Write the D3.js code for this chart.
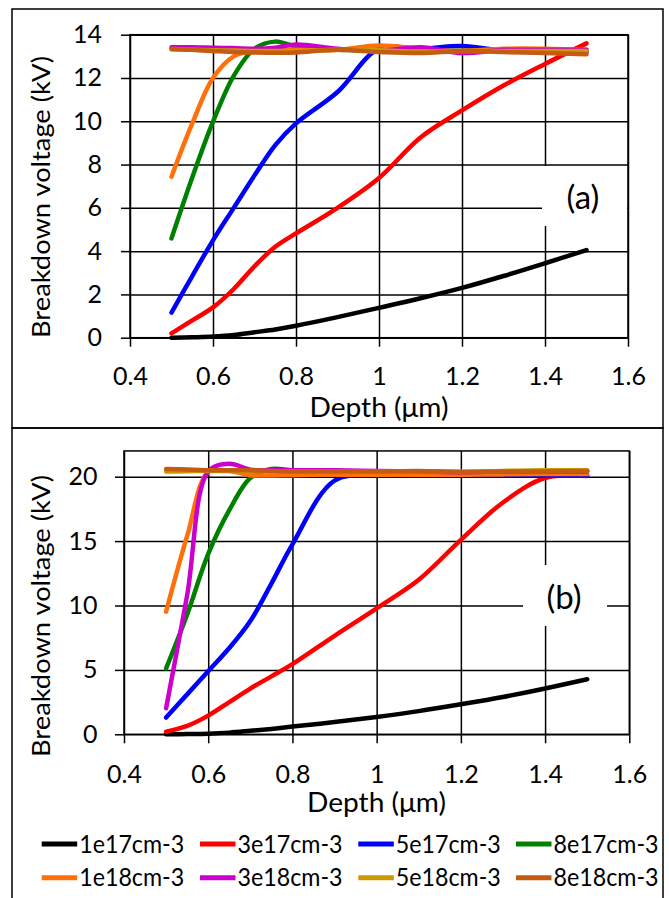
<!DOCTYPE html>
<html>
<head>
<meta charset="utf-8">
<script src="https://cdn.jsdelivr.net/npm/d3@7"></script>
<style>
  html, body { margin: 0; padding: 0; background: #fff; }
  svg { display: block; }
  text { font-family: Lato, "Open Sans", sans-serif; fill: #000; }
</style>
</head>
<body>
<svg id="chart" width="669" height="898"></svg>
<script>
// ---------------- DATA ----------------
const depths = [0.5, 0.55, 0.6, 0.65, 0.7, 0.75, 0.8, 0.9, 1.0, 1.1, 1.2, 1.3, 1.4, 1.5];
const seriesNames = ["1e17cm-3", "3e17cm-3", "5e17cm-3", "8e17cm-3",
                     "1e18cm-3", "3e18cm-3", "5e18cm-3", "8e18cm-3"];
const seriesColors = ["#000000", "#ff0000", "#0000ff", "#008000",
                      "#ff700a", "#cc00cc", "#cc9900", "#c55a11"];
const xTicks = [0.4, 0.6, 0.8, 1.0, 1.2, 1.4, 1.6];
const xTickLabels = ["0.4", "0.6", "0.8", "1", "1.2", "1.4", "1.6"];
const yTicksA = [0, 2, 4, 6, 8, 10, 12, 14];
const yTicksB = [0, 5, 10, 15, 20];

// Panel (a) breakdown voltage (kV)
const a1e17 = [0, 0.02, 0.05, 0.12, 0.25, 0.38, 0.55, 0.95, 1.38, 1.82, 2.3, 2.85, 3.44, 4.05];
const a3e17 = [0.2, 0.8, 1.4, 2.25, 3.3, 4.2, 4.82, 6.0, 7.38, 9.25, 10.5, 11.65, 12.65, 13.6];
const a5e17 = [1.16, 2.85, 4.5, 6.0, 7.5, 8.9, 9.9, 11.35, 13.35, 13.35, 13.48, 13.25, 13.2, 13.2];
const a8e17 = [4.59, 7.4, 9.98, 12.1, 13.35, 13.68, 13.45, 13.3, 13.3, 13.25, 13.25, 13.3, 13.3, 13.25];
const a1e18 = [7.44, 9.9, 12.0, 13.0, 13.25, 13.3, 13.3, 13.3, 13.5, 13.35, 13.25, 13.35, 13.35, 13.3];
const a3e18 = [13.42, 13.42, 13.4, 13.38, 13.35, 13.4, 13.55, 13.35, 13.25, 13.42, 13.15, 13.3, 13.3, 13.3];
const a5e18 = [13.32, 13.3, 13.28, 13.27, 13.25, 13.25, 13.25, 13.3, 13.28, 13.22, 13.25, 13.25, 13.25, 13.25];
const a8e18 = [13.35, 13.3, 13.25, 13.2, 13.18, 13.17, 13.18, 13.3, 13.2, 13.15, 13.25, 13.2, 13.15, 13.1];

// Panel (b) breakdown voltage (kV)
const b1e17 = [0, 0.02, 0.05, 0.13, 0.27, 0.42, 0.6, 0.95, 1.35, 1.8, 2.33, 2.9, 3.56, 4.27];
const b3e17 = [0.2, 0.65, 1.45, 2.5, 3.55, 4.5, 5.45, 7.65, 9.78, 12.0, 15.1, 18.0, 19.9, 20.05];
const b5e17 = [1.3, 3.1, 4.9, 6.7, 8.8, 11.7, 14.75, 19.7, 20.1, 20.1, 20.1, 20.1, 20.1, 20.1];
const b8e17 = [5.12, 9.3, 14.0, 17.4, 19.9, 20.6, 20.5, 20.35, 20.3, 20.3, 20.3, 20.35, 20.4, 20.4];
const b1e18 = [9.52, 15.4, 20.35, 20.45, 20.12, 20.1, 20.12, 20.15, 20.15, 20.15, 20.15, 20.18, 20.2, 20.2];
const b3e18 = [2.02, 10.8, 20.4, 21.0, 20.55, 20.5, 20.5, 20.5, 20.45, 20.4, 20.35, 20.4, 20.4, 20.4];
const b5e18 = [20.4, 20.42, 20.45, 20.45, 20.45, 20.42, 20.4, 20.4, 20.4, 20.42, 20.4, 20.45, 20.5, 20.5];
const b8e18 = [20.6, 20.55, 20.5, 20.5, 20.5, 20.45, 20.4, 20.4, 20.4, 20.45, 20.35, 20.4, 20.4, 20.45];

// ---------------- DRAW ----------------
const svg = d3.select("#chart");

// outer frames
svg.append("rect").attr("x", 12).attr("y", 9).attr("width", 651).attr("height", 419)
  .attr("fill", "none").attr("stroke", "#000").attr("stroke-width", 1.5);
svg.append("rect").attr("x", 12).attr("y", 428).attr("width", 651).attr("height", 475)
  .attr("fill", "none").attr("stroke", "#000").attr("stroke-width", 1.5);

const panels = [
  { series: [a1e17, a3e17, a5e17, a8e17, a1e18, a3e18, a5e18, a8e18],
    xr: [130, 628], y0: 337.7, yMax: 14, ypx: 21.643, yTicks: yTicksA,
    yPad: 19, xPad: 20.6, box: [542, 166, 85, 60], label: "(a)", labelPos: [583, 209],
    yTitleY: 197, xTitle: [379, 417] },
  { series: [b1e17, b3e17, b5e17, b8e17, b1e18, b3e18, b5e18, b8e18],
    xr: [124, 629.3], y0: 734.3, yMax: 22, ypx: 12.88, yTicks: yTicksB,
    yPad: 17.6, xPad: 21.7, box: [523, 565, 84, 61], label: "(b)", labelPos: [564, 609],
    yTitleY: 616, xTitle: [376.5, 812] }
];

panels.forEach(p => {
  const x = d3.scaleLinear().domain([0.4, 1.6]).range(p.xr);
  const y = d3.scaleLinear().domain([0, p.yMax]).range([p.y0, p.y0 - p.yMax * p.ypx]);
  const pw = p.xr[1] - p.xr[0];
  const ph = y(0) - y(p.yMax);
  const g = svg.append("g");

  // gridlines
  const gy = g.append("g").attr("transform", `translate(${p.xr[0]},0)`)
    .call(d3.axisLeft(y).tickValues(p.yTicks).tickSize(-pw).tickFormat(""));
  const gx = g.append("g").attr("transform", `translate(0,${y(p.yMax)})`)
    .call(d3.axisBottom(x).tickValues(xTicks).tickSize(ph).tickFormat(""));
  [gy, gx].forEach(a => {
    a.select(".domain").remove();
    a.selectAll("line").attr("stroke", "#000").attr("stroke-width", 1.5);
  });
  // plot frame
  g.append("rect").attr("x", p.xr[0]).attr("y", y(p.yMax)).attr("width", pw).attr("height", ph)
    .attr("fill", "none").attr("stroke", "#000").attr("stroke-width", 1.5);

  // axes with outward ticks and labels
  const ay = g.append("g").attr("transform", `translate(${p.xr[0]},0)`)
    .call(d3.axisLeft(y).tickValues(p.yTicks).tickSize(9).tickPadding(p.yPad).tickFormat(d3.format("d")));
  const ax = g.append("g").attr("transform", `translate(0,${y(0)})`)
    .call(d3.axisBottom(x).tickValues(xTicks).tickSize(9).tickPadding(p.xPad)
      .tickFormat((d, i) => xTickLabels[i]));
  [ay, ax].forEach(a => {
    a.select(".domain").remove();
    a.selectAll("line").attr("stroke", "#000").attr("stroke-width", 1.5);
    a.selectAll("text").attr("font-family", "Lato, sans-serif").attr("font-size", 25).attr("fill", "#000");
  });

  // label box
  g.append("rect").attr("x", p.box[0]).attr("y", p.box[1]).attr("width", p.box[2]).attr("height", p.box[3])
    .attr("fill", "#fff");
  g.append("text").attr("x", p.labelPos[0]).attr("y", p.labelPos[1])
    .attr("text-anchor", "middle").attr("font-size", 33).text(p.label);

  // curves
  const line = d3.line().x((d, i) => x(depths[i])).y(d => y(d)).curve(d3.curveCatmullRom.alpha(0.5));
  p.series.forEach((s, k) => {
    g.append("path").attr("d", line(s)).attr("fill", "none")
      .attr("stroke", seriesColors[k]).attr("stroke-width", 4.5)
      .attr("stroke-linecap", "round").attr("stroke-linejoin", "round");
  });

  // axis titles
  g.append("text").attr("transform", `translate(50,${p.yTitleY}) rotate(-90)`)
    .attr("text-anchor", "middle").attr("font-size", 25)
    .attr("textLength", 282).attr("lengthAdjust", "spacingAndGlyphs")
    .text("Breakdown voltage (kV)");
  g.append("text").attr("x", p.xTitle[0]).attr("y", p.xTitle[1])
    .attr("text-anchor", "middle").attr("font-size", 26)
    .attr("textLength", 139).attr("lengthAdjust", "spacingAndGlyphs")
    .text("Depth (\u03bcm)");
});

// legend
const legX = [41.7, 200, 358.3, 516];
const legY = [844, 877.7];
const leg = svg.append("g");
seriesNames.forEach((name, i) => {
  const cx = legX[i % 4], cy = legY[Math.floor(i / 4)];
  leg.append("line").attr("x1", cx).attr("x2", cx + 35.5).attr("y1", cy).attr("y2", cy)
    .attr("stroke", seriesColors[i]).attr("stroke-width", 5);
  leg.append("text").attr("x", cx + 37.5).attr("y", cy + 8.5)
    .attr("font-size", 25).attr("textLength", 105).attr("lengthAdjust", "spacingAndGlyphs")
    .text(name);
});
</script>
</body>
</html>
